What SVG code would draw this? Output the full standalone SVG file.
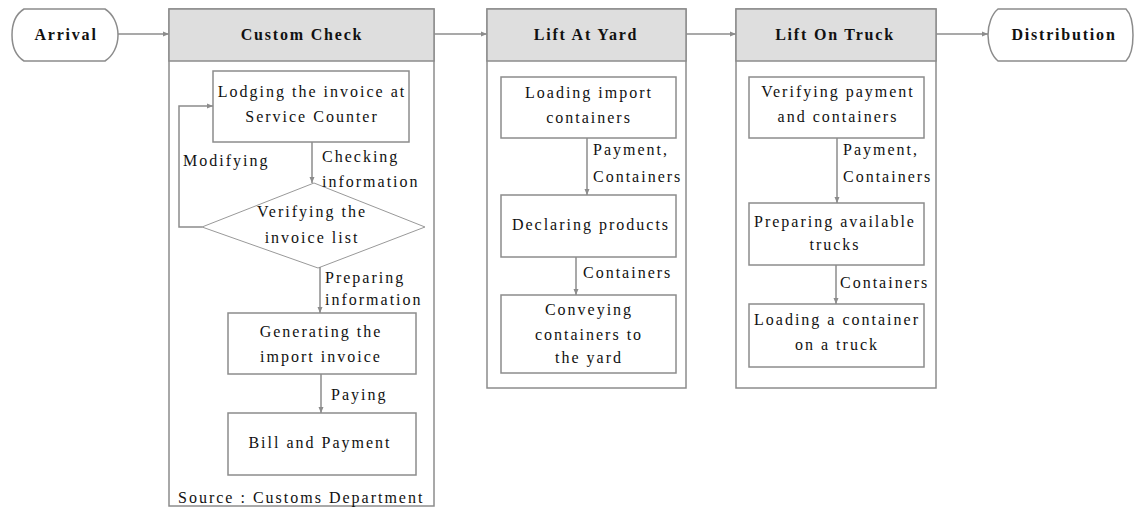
<svg xmlns="http://www.w3.org/2000/svg" width="1135" height="508" viewBox="0 0 1135 508">
<style>
  .frame{fill:#fff;stroke:#8c8c8c;stroke-width:1.5}
  .head{fill:#dedede;stroke:#8c8c8c;stroke-width:1.5}
  .box{fill:#fff;stroke:#8c8c8c;stroke-width:1.5}
  .term{fill:#fff;stroke:#8c8c8c;stroke-width:1.5}
  .dia{fill:#fff;stroke:#999;stroke-width:1}
  .edge{fill:none;stroke:#8c8c8c;stroke-width:1.5}
  text{font-family:"Liberation Serif","Times New Roman",serif;font-size:16px;fill:#111;letter-spacing:2px}
  .c{text-anchor:middle}
  .b{font-weight:bold;letter-spacing:1.8px}
</style>
<defs>
  <marker id="arr" markerUnits="userSpaceOnUse" markerWidth="6" markerHeight="6" refX="6" refY="3" orient="auto">
    <path d="M0,0.5 L6,3 L0,5.5 z" fill="#8c8c8c"/>
  </marker>
</defs>
<rect width="1135" height="508" fill="#fff"/>

<g id="arrival">
  <path class="term" d="M24 9 H105 C113 14 118 24 118 35 C118 46 113 56 105 61 H24 C16 56 12 46 12 35 C12 24 16 14 24 9 Z"/>
  <text class="c b" x="66" y="40">Arrival</text>
</g>

<g id="custom-check">
  <rect class="frame" x="169" y="9" width="265" height="497"/>
  <rect class="head" x="169" y="9" width="265" height="52"/>
  <text class="c b" x="302" y="40">Custom Check</text>
</g>
<g id="lodging">
  <rect class="box" x="213" y="71" width="196" height="71"/>
  <text class="c" x="312" y="97">Lodging the invoice at</text>
  <text class="c" x="312" y="122">Service Counter</text>
</g>
<g id="verifying-invoice">
  <polygon class="dia" points="314,183 425,227 318,268 202,227"/>
  <text class="c" x="312" y="217">Verifying the</text>
  <text class="c" x="312" y="243">invoice list</text>
</g>
<g id="generating">
  <rect class="box" x="228" y="313" width="188" height="61"/>
  <text class="c" x="321" y="337">Generating the</text>
  <text class="c" x="321" y="362">import invoice</text>
</g>
<g id="bill">
  <rect class="box" x="228" y="413" width="188" height="62"/>
  <text class="c" x="320" y="448">Bill and Payment</text>
</g>
<text id="source" x="178" y="503">Source : Customs Department</text>

<g id="lift-at-yard">
  <rect class="frame" x="487" y="9" width="199" height="379"/>
  <rect class="head" x="487" y="9" width="199" height="52"/>
  <text class="c b" x="586" y="40">Lift At Yard</text>
</g>
<g id="loading-import">
  <rect class="box" x="501" y="77" width="175" height="61"/>
  <text class="c" x="589" y="98">Loading import</text>
  <text class="c" x="589" y="123">containers</text>
</g>
<g id="declaring">
  <rect class="box" x="501" y="195" width="175" height="62"/>
  <text class="c" x="591" y="230">Declaring products</text>
</g>
<g id="conveying">
  <rect class="box" x="501" y="295" width="175" height="78"/>
  <text class="c" x="589" y="315">Conveying</text>
  <text class="c" x="589" y="340">containers to</text>
  <text class="c" x="589" y="363">the yard</text>
</g>

<g id="lift-on-truck">
  <rect class="frame" x="736" y="9" width="200" height="379"/>
  <rect class="head" x="736" y="9" width="200" height="52"/>
  <text class="c b" x="835" y="40">Lift On Truck</text>
</g>
<g id="verifying-payment">
  <rect class="box" x="749" y="77" width="175" height="61"/>
  <text class="c" x="838" y="97">Verifying payment</text>
  <text class="c" x="838" y="122">and containers</text>
</g>
<g id="preparing-trucks">
  <rect class="box" x="749" y="203" width="175" height="62"/>
  <text class="c" x="835" y="227">Preparing available</text>
  <text class="c" x="835" y="250">trucks</text>
</g>
<g id="loading-truck">
  <rect class="box" x="749" y="304" width="175" height="63"/>
  <text class="c" x="837" y="325">Loading a container</text>
  <text class="c" x="837" y="350">on a truck</text>
</g>

<g id="distribution">
  <path class="term" d="M998 9 H1126 C1131 14 1133 24 1133 35 C1133 46 1131 56 1126 61 H998 C992 56 988 46 988 35 C988 24 992 14 998 9 Z"/>
  <text class="c b" x="1064" y="40">Distribution</text>
</g>

<g id="connectors">
  <path class="edge" d="M118 34 H169" marker-end="url(#arr)"/>
  <path class="edge" d="M434 34 H487" marker-end="url(#arr)"/>
  <path class="edge" d="M686 34 H736" marker-end="url(#arr)"/>
  <path class="edge" d="M936 34 H988" marker-end="url(#arr)"/>

  <path class="edge" d="M312 142 V183" marker-end="url(#arr)"/>
  <path class="edge" d="M202 227 H179 V106 H213" marker-end="url(#arr)"/>
  <path class="edge" d="M320 267 V313" marker-end="url(#arr)"/>
  <path class="edge" d="M321 374 V413" marker-end="url(#arr)"/>

  <path class="edge" d="M587 138 V195" marker-end="url(#arr)"/>
  <path class="edge" d="M576 257 V295" marker-end="url(#arr)"/>

  <path class="edge" d="M837 138 V203" marker-end="url(#arr)"/>
  <path class="edge" d="M836 265 V304" marker-end="url(#arr)"/>

  <text x="183" y="166">Modifying</text>
  <text x="322" y="162">Checking</text>
  <text x="322" y="187">information</text>
  <text x="325" y="283">Preparing</text>
  <text x="325" y="305">information</text>
  <text x="331" y="400">Paying</text>
  <text x="593" y="155">Payment,</text>
  <text x="593" y="182">Containers</text>
  <text x="583" y="278">Containers</text>
  <text x="843" y="155">Payment,</text>
  <text x="843" y="182">Containers</text>
  <text x="840" y="288">Containers</text>
</g>
</svg>
